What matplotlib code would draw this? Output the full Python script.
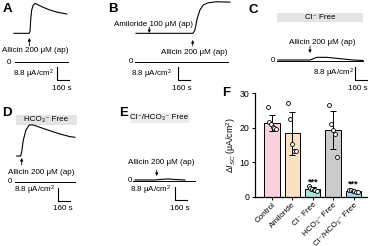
import numpy as np
import matplotlib
matplotlib.use("Agg")
import matplotlib.pyplot as plt

plt.rcParams['font.family'] = ['Liberation Sans', 'DejaVu Sans']
plt.rcParams['mathtext.fontset'] = 'custom'
plt.rcParams['mathtext.rm'] = 'Liberation Sans'
plt.rcParams['mathtext.it'] = 'Liberation Sans:italic'

W, H = 370, 246
SX = 160 / 11.5   # s per pixel (scale bar 160 s)
SY = 8.8 / 13.0   # uA/cm2 per pixel (scale bar 8.8 uA/cm2)

# ---- Isc traces (time in s, current in uA/cm2) ----
t_A = [0, 210, 222, 232, 246, 268, 296, 338, 407, 500, 593, 735]
i_A = [19.4, 19.4, 20.5, 28.4, 35.2, 38.6, 39.7, 38.6, 37.0, 35.2, 33.8, 32.5]

t_B = [0, 792, 820, 852, 890, 936, 1005, 1121, 1307]
i_B = [19.2, 19.2, 21.5, 29.4, 35.0, 38.4, 39.9, 40.6, 40.3]

t_C = [0, 445, 473, 538, 677, 862, 1043, 1182]
i_C = [0, 0, 0.5, 1.8, 1.8, 0.9, 0, -0.3]

t_D = [0, 56, 70, 92, 129, 175, 231, 324, 463, 602, 741, 810]
i_D = [17.4, 17.4, 20.3, 28.2, 35.0, 38.4, 38.4, 36.8, 34.5, 32.3, 30.5, 30.1]

t_E = [0, 278, 348, 459, 556, 695]
i_E = [0.5, 0.5, 0.8, 1.2, 0.8, 0.5]

# ---- panel F: delta Isc per group ----
groups = ['Control', 'Amiloride', 'Cl⁻ Free', 'HCO₃⁻ Free', 'Cl⁻/HCO₃⁻ Free']
pts_control = [25.9, 21.6, 21.0, 20.2, 19.8, 19.6]
pts_amiloride = [27.0, 22.6, 15.3, 13.3, 13.3]
pts_cl_free = [2.9, 2.5, 2.2, 2.0, 1.8, 1.6]
pts_hco3_free = [26.5, 20.9, 19.4, 18.2, 11.4]
pts_both_free = [2.0, 1.8, 1.6, 1.5, 1.3, 1.2]
signif = ['', '', '***', '', '***']
bar_colors = ['#f9d0dc', '#fde1c4', '#a9e4d6', '#cbcbcb', '#a6d8ea']

fig = plt.figure(figsize=(W / 100, H / 100), dpi=100)

# overlay axes in pixel coordinates for labels, arrows, scale bars
ov = fig.add_axes([0, 0, 1, 1])
ov.set_xlim(0, W)
ov.set_ylim(H, 0)
ov.axis('off')
ov.patch.set_alpha(0)

FS = 5.8
FL = 9.5   # panel letters


def trace_axes(x0, y0):
    """Full-figure axes where t=0 sits at pixel x0 and I=0 at pixel y0."""
    ax = fig.add_axes([0, 0, 1, 1])
    ax.set_xlim(-x0 * SX, (W - x0) * SX)
    ax.set_ylim((y0 - H) * SY, y0 * SY)
    ax.axis('off')
    ax.patch.set_alpha(0)
    return ax


def txt(x, y, s, **kw):
    ov.text(x, y, s, ha=kw.pop('ha', 'center'), va='center',
            fontsize=kw.pop('fontsize', FS), **kw)


def arrow(x, y_tail, y_tip):
    ov.annotate('', xy=(x, y_tip), xytext=(x, y_tail),
                arrowprops=dict(arrowstyle='-|>', lw=0.6, color='k',
                                mutation_scale=4, shrinkA=0, shrinkB=0))


def scalebar(x, y_bottom):
    h = 8.8 / SY
    w = 160 / SX
    ov.plot([x, x, x + w], [y_bottom - h, y_bottom, y_bottom], color='k', lw=0.8)


def zero_line(x_zero_label, y, x1, x2):
    txt(x_zero_label, y, '0')
    ov.plot([x1, x2], [y, y], color='k', lw=0.7)


def gray_box(x1, x2, y1, y2, s, color='#e4e4e4'):
    ov.add_patch(plt.Rectangle((x1, y1), x2 - x1, y2 - y1, color=color, lw=0))
    txt((x1 + x2) / 2, (y1 + y2) / 2, s)


# ---- A ----
txt(7, 9, 'A', fontweight='bold', fontsize=FL)
trace_axes(14, 62).plot(t_A, i_A, color='k', lw=0.8)
arrow(29.3, 46, 38)
txt(35, 51, 'Allicin 200 μM (ap)')
zero_line(9, 62, 15, 68)
txt(33.5, 74, '8.8 μA/cm$^2$')
scalebar(57.3, 80)
txt(62, 88, '160 s')

# ---- B ----
txt(113, 9, 'B', fontweight='bold', fontsize=FL)
trace_axes(136, 61.7).plot(t_B, i_B, color='k', lw=0.8)
txt(154, 24, 'Amiloride 100 μM (ap)')
arrow(149.3, 27, 33)
arrow(192.7, 46, 40)
txt(194, 52, 'Allicin 200 μM (ap)')
zero_line(131, 61.7, 135, 228)
txt(152, 74, '8.8 μA/cm$^2$')
scalebar(178.3, 80)
txt(182, 88, '160 s')

# ---- C ----
txt(253, 10, 'C', fontweight='bold', fontsize=FL)
gray_box(277, 363, 13, 22, 'Cl⁻ Free')
trace_axes(278, 60).plot(t_C, i_C, color='k', lw=0.8)
txt(322, 42, 'Allicin 200 μM (ap)')
arrow(310, 46, 53)
zero_line(273, 60.5, 277, 363)
txt(334, 73, '8.8 μA/cm$^2$')
scalebar(355, 80)
txt(358, 88, '160 s')

# ---- D ----
txt(7, 113, 'D', fontweight='bold', fontsize=FL)
gray_box(16, 77, 115, 125, 'HCO₃⁻ Free')
trace_axes(16.7, 181.7).plot(t_D, i_D, color='k', lw=0.8)
arrow(21.7, 165, 158)
txt(41, 172, 'Allicin 200 μM (ap)')
zero_line(10, 181.7, 15, 75)
txt(35, 190, '8.8 μA/cm$^2$')
scalebar(58.3, 201)
txt(63, 209, '160 s')

# ---- E ----
txt(124, 113, 'E', fontweight='bold', fontsize=FL)
gray_box(130, 189, 113, 123, 'Cl⁻/HCO₃⁻ Free', color='#ececec')
trace_axes(135, 180.7).plot(t_E, i_E, color='k', lw=0.8)
txt(161, 162, 'Allicin 200 μM (ap)')
arrow(156.7, 170, 176)
zero_line(130, 180.7, 133, 195)
txt(151, 190, '8.8 μA/cm$^2$')
scalebar(175, 200)
txt(180, 209, '160 s')

# ---- F ----
txt(226, 93, 'F', fontweight='bold', fontsize=FL)
axF = fig.add_axes([255 / W, 1 - 196.5 / H, 112 / W, 103.5 / H])
all_pts = [pts_control, pts_amiloride, pts_cl_free, pts_hco3_free, pts_both_free]
x = np.arange(len(groups))
means = [np.mean(p) for p in all_pts]
sds = [np.std(p, ddof=1) for p in all_pts]
axF.bar(x, means, width=0.75, color=bar_colors, edgecolor='k', lw=0.7, zorder=1)
axF.errorbar(x, means, yerr=sds, fmt='none', ecolor='k', elinewidth=0.7,
             capsize=2, capthick=0.7, zorder=2)
for xi, p in zip(x, all_pts):
    off = np.linspace(-0.2, 0.2, len(p))
    axF.scatter(xi + off, p, s=8, facecolor='white', edgecolor='k', lw=0.6, zorder=3)
for xi, m, sd, s in zip(x, means, sds, signif):
    if s:
        axF.text(xi, m + sd + 0.3, s, ha='center', va='bottom', fontsize=6.5,
                 fontweight='bold')
axF.set_xlim(-0.83, 4.66)
axF.set_ylim(0, 30)
axF.set_yticks([0, 10, 20, 30])
axF.set_xticks(x)
axF.set_xticklabels(groups, rotation=45, ha='right', rotation_mode='anchor')
axF.tick_params(axis='y', labelsize=6.3, width=0.7, length=2.5, pad=1.5)
axF.tick_params(axis='x', labelsize=5.8, width=0.7, length=2.5, pad=1.0)
for side in ['top', 'right']:
    axF.spines[side].set_visible(False)
for side in ['left', 'bottom']:
    axF.spines[side].set_linewidth(0.9)
axF.set_ylabel('Δ$I_{SC}$ (μA/cm$^2$)', fontsize=6.3, labelpad=1)

fig.savefig('out.png', dpi=100)
